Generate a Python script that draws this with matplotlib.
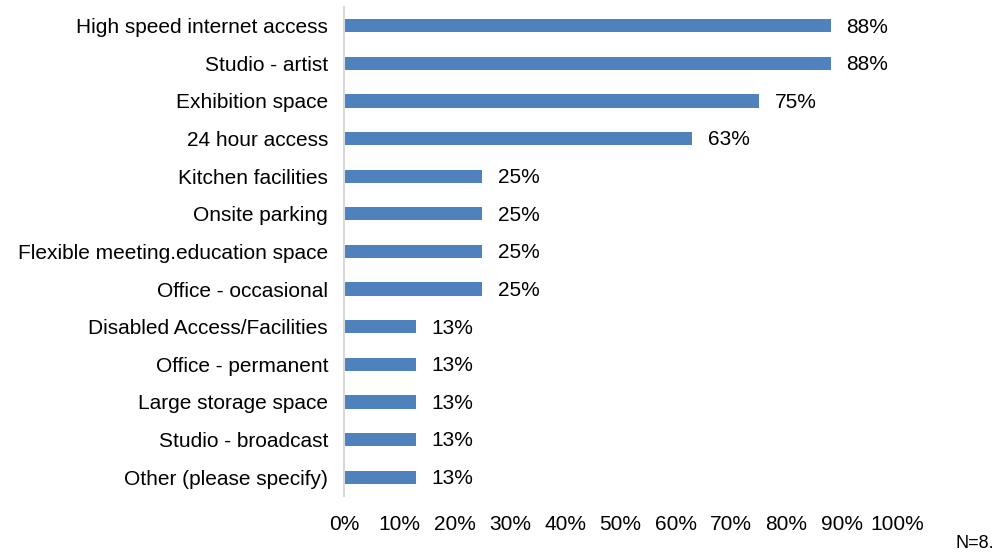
import matplotlib
matplotlib.use('Agg')
import matplotlib.pyplot as plt
from matplotlib.ticker import FuncFormatter

# Facility requirements, share of respondents
categories = [
    'High speed internet access',
    'Studio - artist',
    'Exhibition space',
    '24 hour access',
    'Kitchen facilities',
    'Onsite parking',
    'Flexible meeting.education space',
    'Office - occasional',
    'Disabled Access/Facilities',
    'Office - permanent',
    'Large storage space',
    'Studio - broadcast',
    'Other (please specify)',
]
percentages = [88, 88, 75, 63, 25, 25, 25, 25, 13, 13, 13, 13, 13]
x_ticks = [0, 10, 20, 30, 40, 50, 60, 70, 80, 90, 100]
sample_note = 'N=8.'

plt.rcParams['font.family'] = ['Liberation Sans', 'DejaVu Sans']
FS = 15

fig = plt.figure(figsize=(9.98, 5.54), dpi=100)
ax = fig.add_axes([0.3447, 0.1047, 0.5541, 0.8829])

ypos = list(range(len(categories)))
ax.barh(ypos, percentages, height=0.355, color='#4F81BD')

for y, v in zip(ypos, percentages):
    ax.annotate(f'{v}%', xy=(v, y), xytext=(11.5, -1.0), textcoords='offset points',
                va='center', ha='left', fontsize=FS, color='#000000')

ax.set_xlim(0, 100)
ax.set_ylim(len(categories) - 0.5, -0.5)
ax.set_yticks(ypos)
ax.set_yticklabels(categories, fontsize=FS)
ax.set_xticks(x_ticks)
ax.xaxis.set_major_formatter(FuncFormatter(lambda v, _: f'{v:.0f}%'))
ax.tick_params(axis='x', length=0, pad=14, labelsize=FS)
ax.tick_params(axis='y', length=0, pad=11.5)

for side in ['top', 'right', 'bottom']:
    ax.spines[side].set_visible(False)
ax.spines['left'].set_color('#D9D9D9')
ax.spines['left'].set_linewidth(1.5)

fig.text(0.957, 0.004, sample_note, ha='left', va='bottom', fontsize=13)

fig.savefig('out.png', dpi=100)
plt.close(fig)
